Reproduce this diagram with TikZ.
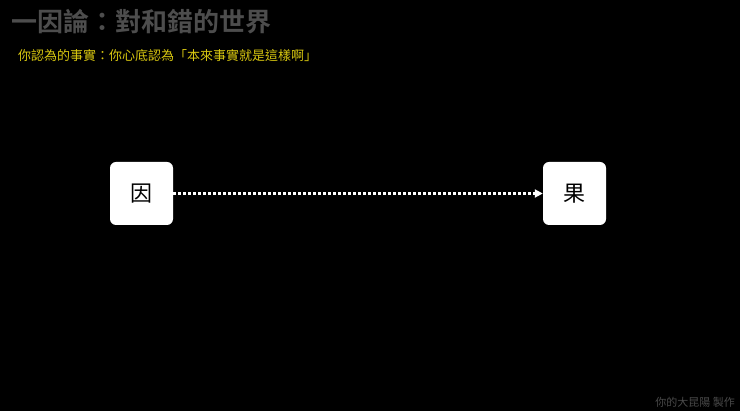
\documentclass[tikz,border=0pt]{standalone}
\usepackage{fontspec}
\newfontfamily\cjk{Noto Sans CJK TC}
\newfontfamily\cjkbold{Noto Sans CJK TC Bold}
\usetikzlibrary{arrows.meta}
\definecolor{titlegrey}{HTML}{4D4D4D}
\definecolor{subyellow}{HTML}{D9C810}
\definecolor{footgrey}{HTML}{4A4A4A}
\tikzset{
  causebox/.style={fill=white, rounded corners=6pt, minimum width=63pt, minimum height=63pt, inner sep=0pt, font=\cjk\fontsize{22}{22}\selectfont, text=black}
}
\begin{document}
\begin{tikzpicture}[x=1pt, y=-1pt]
% background
\fill[black] (0,0) rectangle (740,411);

% titles
\node[anchor=west, inner sep=0pt, text=titlegrey, font=\cjkbold\fontsize{26}{26}\selectfont] (title) at (11,22) {一因論：對和錯的世界};
\node[anchor=west, inner sep=0pt, text=subyellow, font=\cjk\fontsize{13}{13}\selectfont] (sub) at (18,56) {你認為的事實：你心底認為「本來事實就是這樣啊」};

% cause and effect
\node[causebox] (cause) at (141.5,193.5) {因};
\node[causebox] (effect) at (574.5,193.5) {果};
\draw[white, line width=2.5pt, dash pattern=on 2.5pt off 2.5pt, -{Triangle[length=8pt, width=8pt]}] (cause) -- (effect);

% footer
\node[anchor=east, inner sep=0pt, text=footgrey, font=\cjk\fontsize{11}{11}\selectfont] (credit) at (735,402) {你的大昆陽 製作};
\end{tikzpicture}
\end{document}
